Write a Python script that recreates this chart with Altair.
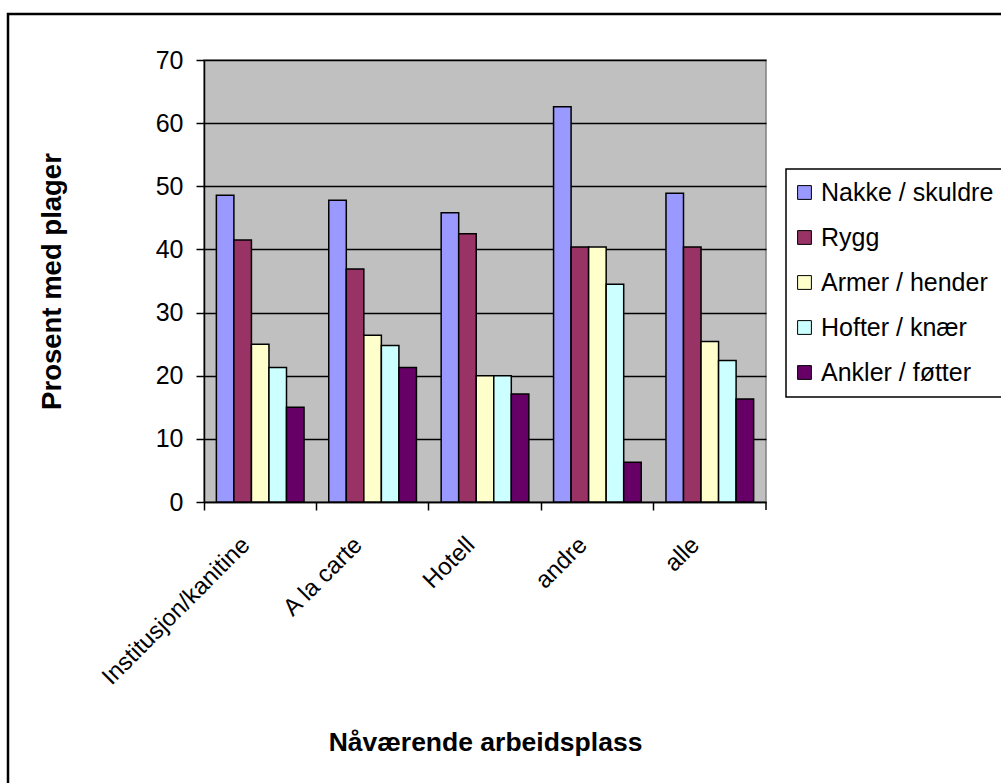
import altair as alt
import pandas as pd

# Workplace categories and complaint areas
workplaces = ["Institusjon/kanitine", "A la carte", "Hotell", "andre", "alle"]
body_parts = ["Nakke / skuldre", "Rygg", "Armer / hender", "Hofter / knær", "Ankler / føtter"]
part_colors = ["#9999FF", "#993366", "#FFFFCC", "#CCFFFF", "#660066"]

# Percent with complaints, one list per body part (in workplace order)
nakke = [48.6, 47.8, 45.8, 62.6, 48.9]
rygg = [41.5, 36.9, 42.5, 40.4, 40.4]
armer = [25.0, 26.4, 20.0, 40.4, 25.4]
hofter = [21.3, 24.8, 20.0, 34.5, 22.4]
ankler = [15.0, 21.3, 17.1, 6.3, 16.3]

series = [nakke, rygg, armer, hofter, ankler]
rows = []
for part, vals in zip(body_parts, series):
    for wp, v in zip(workplaces, vals):
        rows.append({"arbeidsplass": wp, "del": part, "prosent": v})
df = pd.DataFrame(rows)

W, H = 562, 442
FONT = "Liberation Sans"

bars = alt.Chart(df).mark_bar(stroke="black", strokeWidth=1.5).encode(
    x=alt.X(
        "arbeidsplass:N",
        sort=workplaces,
        scale=alt.Scale(paddingInner=0, paddingOuter=0),
        axis=alt.Axis(
            bandPosition=0,
            title="Nåværende arbeidsplass",
            titleFontSize=26.5,
            titleFontWeight="bold",
            titleColor="black",
            titleBaseline="alphabetic",
            titleY=248,
            labelAngle=-45,
            labelAlign="right",
            labelBaseline="middle",
            labelOffset=-14,
            labelPadding=31,
            labelFontSize=24,
            labelColor="black",
            labelLimit=0,
            labelOverlap=False,
            labelBound=False,
            labelFlush=False,
            tickSize=8,
            tickColor="black",
            tickWidth=1.5,
            domainColor="black",
            domainWidth=1.5,
        ),
    ),
    xOffset=alt.XOffset(
        "del:N", sort=body_parts, scale=alt.Scale(paddingInner=0, paddingOuter=0.705)
    ),
    y=alt.Y(
        "prosent:Q",
        scale=alt.Scale(domain=[0, 70], nice=False),
        axis=alt.Axis(
            values=[0, 10, 20, 30, 40, 50, 60, 70],
            title="Prosent med plager",
            titleFontSize=27.5,
            titleFontWeight="bold",
            titleColor="black",
            titleAngle=270,
            titleAlign="center",
            titleBaseline="middle",
            titleX=-152,
            labelFontSize=25,
            labelColor="black",
            labelPadding=13,
            tickSize=8,
            tickColor="black",
            tickWidth=1.5,
            domainColor="black",
            domainWidth=1.5,
            grid=True,
            gridColor="black",
            gridWidth=1.5,
        ),
    ),
    color=alt.Color(
        "del:N",
        title=None,
        scale=alt.Scale(domain=body_parts, range=part_colors),
        legend=alt.Legend(
            orient="none",
            legendX=582,
            legendY=109,
            labelFontSize=25,
            labelColor="black",
            labelLimit=0,
            labelOffset=4,
            symbolOffset=-5,
            symbolType="square",
            symbolSize=190,
            symbolStrokeColor="black",
            symbolStrokeWidth=1,
            symbolOpacity=1,
            rowPadding=19,
            padding=11,
            strokeColor="black",
            fillColor="white",
        ),
    ),
)

# Closing tick at the right end of the category axis
end_tick = alt.Chart(alt.Data(values=[{}])).mark_rule(color="black", strokeWidth=1.5).encode(
    x=alt.value(W), y=alt.value(H), y2=alt.value(H + 8)
)

# Outer chart frame
frame = alt.Chart(alt.Data(values=[{}])).mark_rect(
    fillOpacity=0, stroke="black", strokeWidth=2.5
).encode(
    x=alt.value(-196), x2=alt.value(W + 400), y=alt.value(-46), y2=alt.value(H + 400)
)

chart = alt.layer(frame, bars, end_tick).properties(
    width=W,
    height=H,
    autosize=alt.AutoSizeParams(type="none"),
    padding={"left": 204, "top": 60, "right": 235, "bottom": 281},
    background="white",
).configure(font=FONT).configure_view(
    fill="#C0C0C0", stroke="#808080", strokeWidth=1.5
).configure_legend(strokeWidth=1.5)

chart.save("out.html", embed_options={"renderer": "svg", "actions": False})
